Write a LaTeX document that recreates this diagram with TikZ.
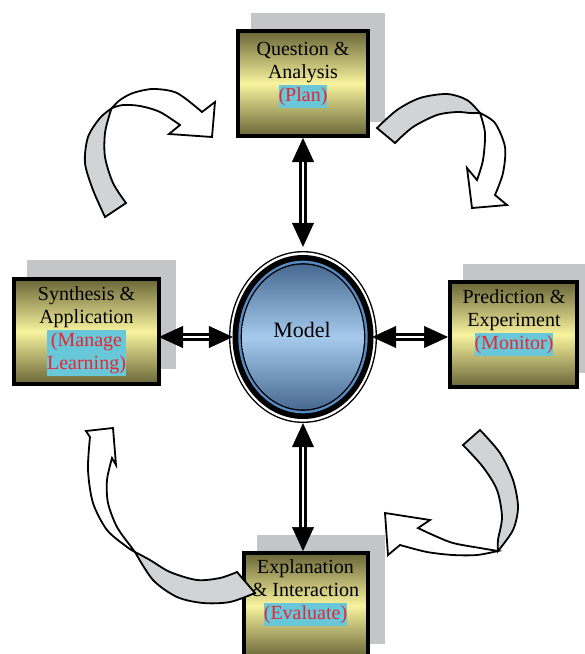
\documentclass[tikz,border=0pt]{standalone}
\usepackage{fontspec}
\setmainfont{Liberation Serif}
\usetikzlibrary{shapes.geometric,arrows.meta,calc}
\definecolor{olv}{RGB}{105,101,55}
\definecolor{ylw}{RGB}{247,243,158}
\definecolor{shd}{RGB}{196,197,199}
\definecolor{agray}{RGB}{209,211,212}
\definecolor{redl}{RGB}{230,38,48}
\definecolor{cyanl}{RGB}{104,200,218}
\definecolor{edark}{RGB}{72,106,146}
\definecolor{elight}{RGB}{165,202,236}
\definecolor{ering}{RGB}{88,138,196}
\newcommand\hlab[1]{{\fboxsep=0pt\colorbox{cyanl}{\strut\textcolor{redl}{#1}}}}
\newcommand\hlabb[2]{{\fboxsep=0pt\colorbox{cyanl}{\color{redl}\begin{tabular}[t]{@{}c@{}}#1\\#2\end{tabular}}}}
\newcommand\dblarrow[2]{%
  \draw[tipped] #1 -- #2;
  \draw[line width=8pt, shorten <=20pt, shorten >=20pt] #1 -- #2;
  \draw[white, line width=2.6pt, shorten <=24pt, shorten >=24pt] #1 -- #2;}
\begin{document}
\begin{tikzpicture}[x=1pt,y=-1pt,
  box/.style={draw=black, line width=4pt, top color=olv, bottom color=olv, middle color=ylw, inner sep=0pt},
  shadowbox/.style={fill=shd, draw=none},
  lbl/.style={font=\fontsize{20}{23}\selectfont, align=center, inner sep=0pt, anchor=north},
  tipped/.style={line width=0.5pt, {Triangle[length=24pt,width=22pt]}-{Triangle[length=24pt,width=22pt]}},
  garrow/.style={fill=agray, draw=black, line width=1.8pt},
  warrow/.style={fill=white, draw=black, line width=1.8pt}]
\useasboundingbox (0,0) rectangle (585,654);
\clip (0,0) rectangle (585,654);

% shadows
\fill[shd] (251,13) rectangle (385,122);
\fill[shd] (27,260) rectangle (176,369);
\fill[shd] (463,264) rectangle (594,373);
\fill[shd] (257,535) rectangle (385,644);

% boxes
\node[box, minimum width=130pt, minimum height=105pt] (q) at (303,83.5) {};
\node[box, minimum width=145pt, minimum height=105pt] (s) at (86.5,331.5) {};
\node[box, minimum width=127pt, minimum height=105pt] (p) at (513.5,334.5) {};
\node[box, minimum width=124pt, minimum height=105pt] (e) at (306,605.5) {};

\node[lbl] (qt) at (303,38.9) {\strut Question \&\\Analysis\\\hlab{(Plan)}};
\node[lbl] (st) at (86.5,283.9) {\strut Synthesis \&\\Application\\\hlabb{(Manage}{Learning)}};
\node[lbl] (pt) at (514,286.9) {\strut Prediction \&\\Experiment\\\hlab{(Monitor)}};
\node[lbl] (et) at (305.5,556.9) {\strut Explanation\\\& Interaction\\\hlab{(Evaluate)}};

% model ellipse
\node[ellipse, minimum width=148pt, minimum height=172pt, inner sep=0pt] (model) at (303,337) {};
\fill[black] (model.center) ellipse [x radius=74pt, y radius=86pt];
\fill[white] (model.center) ellipse [x radius=72.6pt, y radius=84.6pt];
\fill[black] (model.center) ellipse [x radius=70.5pt, y radius=82pt];
\fill[ering] (model.center) ellipse [x radius=64.7pt, y radius=76.3pt];
\fill[black] (model.center) ellipse [x radius=62.3pt, y radius=73.8pt];
\shade[top color=edark, bottom color=edark, middle color=elight] (model.center) ellipse [x radius=61pt, y radius=72.4pt];
\node[font=\fontsize{22}{26}\selectfont, anchor=base, inner sep=0pt] (modeltext) at ($(model.center)+(-1,0)$) {Model};

% double arrows
\dblarrow{(q.south)}{($(model.north)+(0,-4)$)}
\dblarrow{($(s.east |- model.center)+(-2,0)$)}{($(model.west)+(4,0)$)}
\dblarrow{($(model.east)+(-5,0)$)}{(p.west |- model.center)}
\dblarrow{(model.south)}{(model.south |- e.north)}

% curved arrows: top-left
\filldraw[garrow] (105,217) -- plot[smooth] coordinates {(105,217) (93,190) (85,163) (88,137) (100,118) (112,108)}
  -- plot[smooth] coordinates {(112,108) (110,113) (105,133) (105,157) (113,183) (126,203)} -- cycle;
\filldraw[warrow] (112,108) -- plot[smooth] coordinates {(112,108) (120,100) (133,93) (153,89) (177,93) (202,112)}
  -- (215,102) -- (212,137) -- (169,134) -- (180,125)
  -- plot[smooth] coordinates {(180,125) (160,112) (140,106) (123,105) (112,108)} -- cycle;

% top-right
\filldraw[garrow] (377,128) -- plot[smooth] coordinates {(377,128) (397,110) (420,98) (447,94) (467,100) (480,113)}
  -- plot[smooth] coordinates {(480,113) (470,113) (457,112) (437,115) (413,127) (395,143)} -- cycle;
\filldraw[warrow] (480,113) -- plot[smooth] coordinates {(480,113) (495,123) (505,147) (503,173) (495,195)}
  -- (507,205) -- (472,208) -- (467,168) -- (477,180)
  -- plot[smooth] coordinates {(477,180) (483,160) (485,133) (480,113)} -- cycle;

% bottom-right
\filldraw[garrow] (480,430) -- plot[smooth] coordinates {(480,430) (500,453) (513,480) (518,507) (513,530) (498,551)}
  -- plot[smooth] coordinates {(498,551) (498,540) (502,517) (497,490) (483,467) (463,445)} -- cycle;
\filldraw[warrow] (498,551) -- plot[smooth] coordinates {(498,551) (477,555) (453,555) (427,552) (400,545)}
  -- (388,555) -- (385,513) -- (430,520) -- (418,528)
  -- plot[smooth] coordinates {(418,528) (433,535) (453,543) (480,548) (498,551)} -- cycle;

% bottom-left
\filldraw[garrow] (237,572) -- plot[smooth] coordinates {(237,572) (220,578) (197,580) (170,572) (150,560) (135,552)}
  -- plot[smooth] coordinates {(135,552) (153,580) (177,597) (203,603) (230,602) (255,593)} -- cycle;
\filldraw[warrow] (135,552) -- plot[smooth] coordinates {(135,552) (127,547) (107,530) (93,503) (88,470) (90,437)}
  -- (86,431) -- (113,428) -- (116,465) -- (112,458)
  -- plot[smooth] coordinates {(112,458) (107,480) (108,503) (117,527) (132,548) (135,552)} -- cycle;
\end{tikzpicture}
\end{document}
